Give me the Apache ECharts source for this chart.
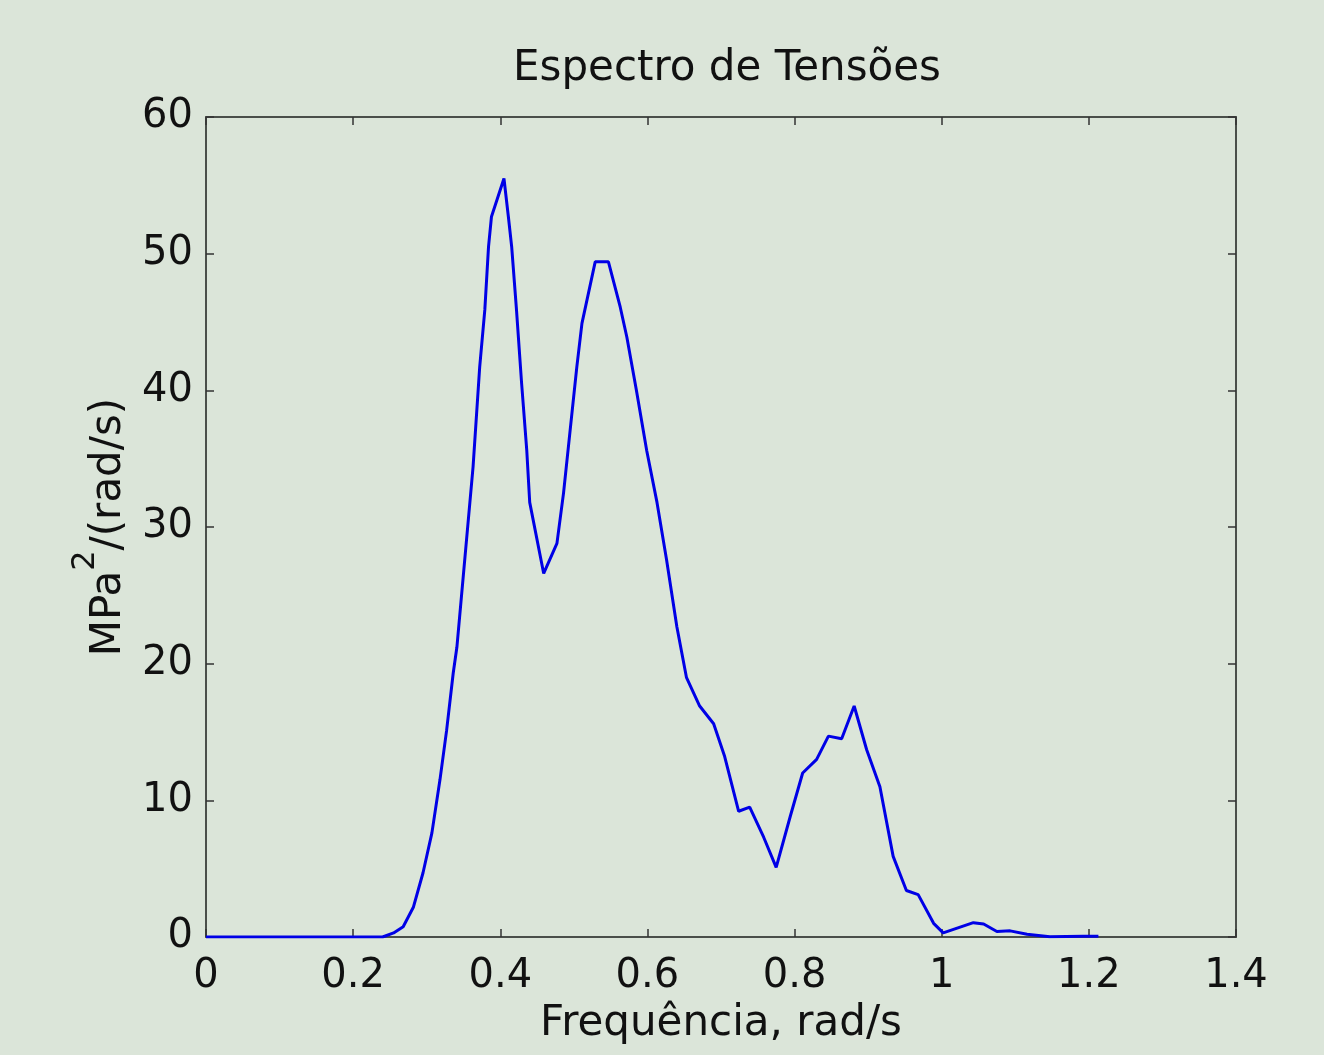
<!DOCTYPE html>
<html>
<head>
<meta charset="utf-8">
<script src="https://cdn.jsdelivr.net/npm/echarts@6/dist/echarts.min.js"></script>
<style>
html,body{margin:0;padding:0;background:#dbe5d9;}
#c{width:1324px;height:1055px;}
</style>
</head>
<body>
<div id="c"></div>
<script>
const titleText = 'Espectro de Tensões';
const xName = 'Frequência, rad/s';
const xTicks = [0, 0.2, 0.4, 0.6, 0.8, 1, 1.2, 1.4];
const yTicks = [0, 10, 20, 30, 40, 50, 60];
const freq = [0, 0.05, 0.1, 0.15, 0.2, 0.24, 0.255, 0.268, 0.282, 0.295, 0.307, 0.318, 0.327, 0.336, 0.341,
  0.352, 0.363, 0.372, 0.379, 0.384, 0.388, 0.405, 0.411, 0.4155, 0.422, 0.429, 0.436, 0.440, 0.459,
  0.477, 0.486, 0.495, 0.504, 0.511, 0.529, 0.547, 0.563, 0.572, 0.585, 0.599, 0.613, 0.626, 0.640,
  0.653, 0.671, 0.690, 0.705, 0.724, 0.739, 0.758, 0.775, 0.794, 0.811, 0.830, 0.846, 0.864, 0.881,
  0.898, 0.916, 0.934, 0.952, 0.968, 0.989, 1.002, 1.043, 1.057, 1.075, 1.093, 1.116, 1.147, 1.192, 1.213];
const psd = [0, 0, 0, 0, 0, 0, 0.3, 0.75, 2.2, 4.7, 7.6, 11.5, 15.1, 19.3, 21.2,
  27.8, 34.4, 41.7, 45.9, 50.5, 52.7, 55.5, 52.7, 50.5, 45.9, 40.5, 35.6, 31.8, 26.6,
  28.8, 32.5, 37.1, 41.7, 44.9, 49.4, 49.4, 46.1, 43.9, 40.0, 35.6, 31.8, 27.6, 22.7,
  19.0, 16.9, 15.6, 13.2, 9.2, 9.5, 7.3, 5.1, 8.8, 12.0, 13.0, 14.7, 14.5, 16.9,
  13.7, 11.0, 5.9, 3.4, 3.1, 1.0, 0.3, 1.05, 0.95, 0.4, 0.45, 0.2, 0.02, 0.05, 0.05];

const data = freq.map((f, i) => [f, psd[i]]);
const FONT = 'DejaVu Sans';
const txt = '#111';
const axisCol = '#4a4f4a';

const chart = echarts.init(document.getElementById('c'));
const mkTick = () => ({show: true, inside: true, length: 8, lineStyle: {color: '#333', width: 1.5}});
const mkLine = () => ({show: true, onZero: false, lineStyle: {color: axisCol, width: 2}});
chart.setOption({
  backgroundColor: '#dbe5d9',
  animation: false,
  title: {
    text: titleText, left: 508, top: 43,
    textStyle: {fontFamily: FONT, fontSize: 42, fontWeight: 'normal', color: txt}
  },
  grid: {left: 206, right: 88, top: 117, bottom: 118},
  xAxis: [{
    type: 'value', min: xTicks[0], max: xTicks[xTicks.length - 1], interval: 0.2,
    name: xName, nameLocation: 'middle', nameGap: 66,
    nameTextStyle: {fontFamily: FONT, fontSize: 42, color: txt},
    axisLine: mkLine(),
    axisTick: mkTick(),
    splitLine: {show: false},
    axisLabel: {fontFamily: FONT, fontSize: 40, color: txt, margin: 20,
      formatter: v => String(Math.round(v * 10) / 10)}
  }, {
    type: 'value', position: 'top', min: xTicks[0], max: xTicks[xTicks.length - 1], interval: 0.2,
    axisLine: mkLine(),
    axisTick: mkTick(), axisLabel: {show: false}, splitLine: {show: false}
  }],
  yAxis: [{
    type: 'value', min: yTicks[0], max: yTicks[yTicks.length - 1], interval: 10,
    name: '{n|MPa}{s|2}{n|/(rad/s)}', nameLocation: 'middle', nameGap: 76,
    nameTextStyle: {fontFamily: FONT, fontSize: 42, color: txt,
      rich: {
        n: {fontFamily: FONT, fontSize: 42, color: txt, lineHeight: 60, verticalAlign: 'bottom'},
        s: {fontFamily: FONT, fontSize: 32, color: txt, lineHeight: 60, verticalAlign: 'top'}
      }},
    axisLine: mkLine(),
    axisTick: mkTick(),
    splitLine: {show: false},
    axisLabel: {fontFamily: FONT, fontSize: 40, color: txt, margin: 13}
  }, {
    type: 'value', position: 'right', min: yTicks[0], max: yTicks[yTicks.length - 1], interval: 10,
    axisLine: mkLine(),
    axisTick: mkTick(), axisLabel: {show: false}, splitLine: {show: false}
  }],
  series: [{
    type: 'line', data: data, showSymbol: false, smooth: false,
    lineStyle: {color: '#0000e6', width: 3}
  }]
});
</script>
</body>
</html>
